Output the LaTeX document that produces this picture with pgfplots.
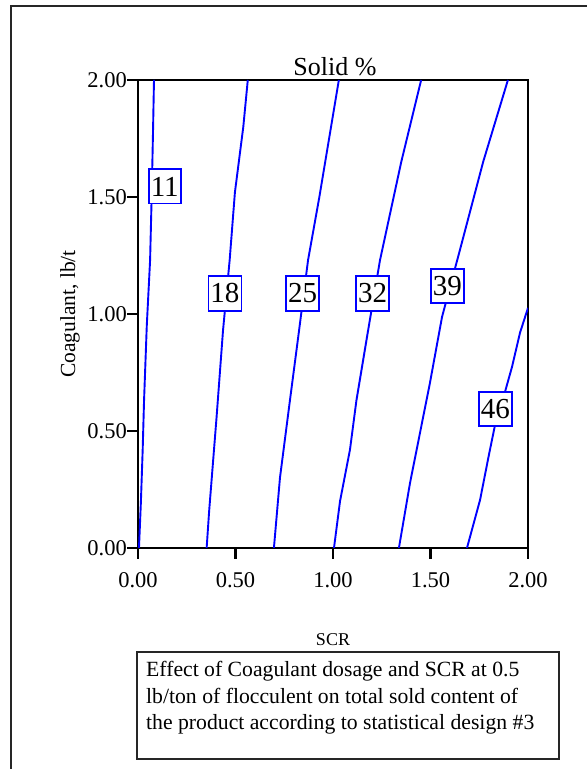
\documentclass[border=0pt]{standalone}
\usepackage{pgfplots}
\pgfplotsset{compat=1.18}
\usepackage{fontspec}
\setmainfont{Liberation Serif}
\definecolor{cblue}{RGB}{0,0,255}
\begin{document}
\begin{tikzpicture}[x=1bp,y=1bp]
\useasboundingbox (0,0) rectangle (587,769);
\draw[line width=1.8bp,black!85] (11,-2) -- (11,763) -- (590,763);
\begin{axis}[
  at={(138bp,221bp)}, anchor=south west,
  width=390bp, height=468bp, scale only axis,
  xmin=0, xmax=2, ymin=0, ymax=2,
  xtick={0,0.5,1,1.5,2}, ytick={0,0.5,1,1.5,2},
  tick align=outside, tick pos=left,
  major tick length=11bp,
  every tick/.style={line width=2.2bp,black},
  axis line style={line width=2.2bp},
  /pgf/number format/assume math mode=true,
  /pgf/number format/.cd, fixed, fixed zerofill, precision=2, /pgfplots/.cd,
  ticklabel style={font=\fontsize{22.5bp}{27bp}\selectfont},
  xticklabel style={inner sep=0pt, yshift=-13bp},
  yticklabel style={inner sep=0pt, xshift=0bp},
  clip=true,
]
\addplot[cblue, line width=1.9bp] coordinates {(0.005,0) (0.015,0.2) (0.024,0.42) (0.031,0.63) (0.045,0.95) (0.062,1.23) (0.07,1.5) (0.077,1.78) (0.082,2.0)};
\addplot[cblue, line width=1.9bp] coordinates {(0.352,0) (0.365,0.16) (0.403,0.56) (0.436,0.93) (0.47,1.23) (0.497,1.52) (0.54,1.80) (0.563,2.0)};
\addplot[cblue, line width=1.9bp] coordinates {(0.697,0) (0.728,0.30) (0.779,0.63) (0.826,0.93) (0.872,1.23) (0.93,1.5) (1.03,2.0)};
\addplot[cblue, line width=1.9bp] coordinates {(1.005,0) (1.036,0.2) (1.087,0.42) (1.12,0.63) (1.18,0.93) (1.241,1.23) (1.35,1.65) (1.452,2)};
\addplot[cblue, line width=1.9bp] coordinates {(1.338,0) (1.395,0.278) (1.497,0.705) (1.559,0.987) (1.651,1.274) (1.77,1.65) (1.897,2)};
\addplot[cblue, line width=1.9bp] coordinates {(1.687,0) (1.754,0.205) (1.80,0.40) (1.831,0.526) (1.882,0.667) (1.918,0.774) (1.959,0.92) (2.0,1.026)};
\tikzset{clab/.style={draw=cblue, fill=white, line width=1.9bp, inner xsep=2bp, inner ysep=7.5bp, font=\fontsize{29bp}{30bp}\selectfont}}
\node[clab] at (axis cs:0.137,1.545) {11};
\node[clab] at (axis cs:0.446,1.088) {18};
\node[clab] at (axis cs:0.844,1.088) {25};
\node[clab] at (axis cs:1.203,1.088) {32};
\node[clab] at (axis cs:1.587,1.12) {39};
\node[clab] at (axis cs:1.833,0.594) {46};
\end{axis}
\node[anchor=base, font=\fontsize{26bp}{28bp}\selectfont] at (335,693) {Solid \%};
\node[rotate=90, font=\fontsize{21.5bp}{24bp}\selectfont] at (70,455) {Coagulant, lb/t};
\node[font=\fontsize{18bp}{20bp}\selectfont] at (333,129) {SCR};
\draw[line width=1.5bp, black!85] (137,10) rectangle (559,117);
\begin{scope}[every node/.style={anchor=base west, inner sep=0pt, font=\fontsize{21.7bp}{26.5bp}\selectfont}]
\node at (146,92) {Effect of Coagulant dosage and SCR at 0.5};
\node at (146,65) {lb/ton of flocculent on total sold content of};
\node at (146,39) {the product according to statistical design \#3};
\end{scope}
\end{tikzpicture}
\end{document}
